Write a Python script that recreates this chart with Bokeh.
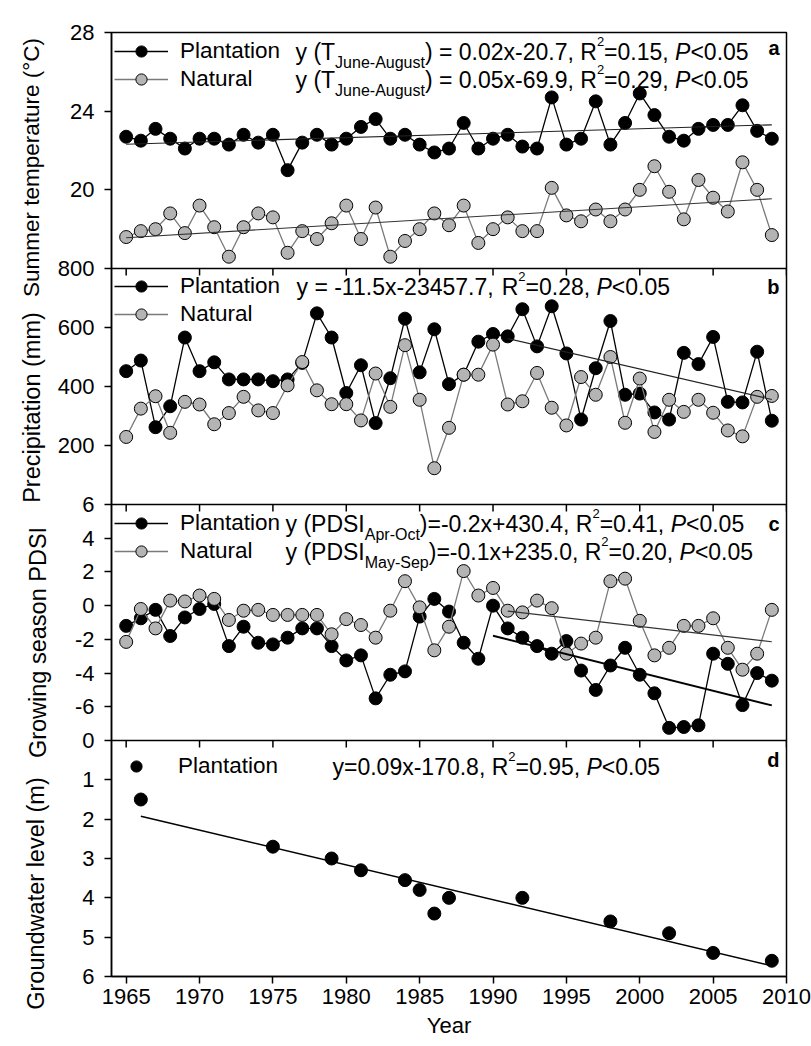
import numpy as np
from bokeh.plotting import figure
from bokeh.layouts import row
from bokeh.models import (Range1d, FixedTicker, Label, Legend, LegendItem, Span)
from bokeh.embed import file_html
from bokeh.resources import INLINE

# ---------------- data ----------------
years = list(range(1965, 2010))
temp_plantation = [22.7, 22.5, 23.1, 22.6, 22.1, 22.6, 22.6, 22.3, 22.8, 22.4, 22.8, 21.0, 22.4, 22.8, 22.3,
                   22.6, 23.2, 23.6, 22.6, 22.8, 22.3, 21.9, 22.1, 23.4, 22.1, 22.6, 22.8, 22.2, 22.1, 24.7,
                   22.3, 22.6, 24.5, 22.3, 23.4, 24.9, 23.8, 22.7, 22.5, 23.1, 23.3, 23.3, 24.3, 23.0, 22.6]
temp_natural = [17.6, 17.9, 18.0, 18.8, 17.8, 19.2, 18.1, 16.6, 18.1, 18.8, 18.6, 16.8, 17.9, 17.5, 18.3,
                19.2, 17.5, 19.1, 16.6, 17.4, 18.0, 18.8, 18.2, 19.2, 17.3, 18.0, 18.6, 17.9, 17.9, 20.1,
                18.7, 18.4, 19.0, 18.4, 19.0, 20.0, 21.2, 19.9, 18.5, 20.5, 19.6, 18.9, 21.4, 20.0, 17.7]
precip_plantation = [452, 488, 262, 333, 566, 452, 482, 424, 424, 424, 418, 424, 480, 648, 566,
                     378, 472, 276, 428, 630, 448, 594, 408, 440, 552, 578, 570, 662, 536, 672,
                     512, 288, 462, 622, 372, 376, 312, 288, 514, 476, 568, 348, 346, 518, 284]
precip_natural = [229, 325, 367, 243, 348, 339, 272, 310, 365, 319, 310, 404, 483, 387, 340,
                  340, 285, 444, 331, 540, 355, 123, 260, 440, 440, 542, 339, 350, 446, 328,
                  268, 432, 372, 500, 277, 427, 246, 355, 314, 355, 311, 251, 231, 365, 368]
pdsi_plantation = [-1.2, -0.75, -0.25, -1.8, -0.7, -0.2, 0.1, -2.4, -1.25, -2.2, -2.3, -1.9, -1.35, -1.35, -2.4,
                   -3.25, -2.95, -5.5, -4.1, -3.9, -0.65, 0.4, -0.35, -2.2, -3.15, 0.0, -1.35, -1.9, -2.4, -2.85,
                   -2.1, -3.85, -5.0, -3.55, -2.5, -4.1, -5.2, -7.25, -7.2, -7.1, -2.85, -3.45, -5.9, -4.0, -4.45]
pdsi_natural = [-2.15, -0.2, -1.35, 0.3, 0.25, 0.6, 0.4, -0.85, -0.3, -0.25, -0.55, -0.55, -0.55, -0.55, -1.7,
                -0.8, -1.15, -1.9, -0.3, 1.45, -0.1, -2.65, -1.25, 2.05, 0.6, 1.05, -0.3, -0.4, 0.3, -0.15,
                -2.85, -2.25, -1.9, 1.45, 1.6, -0.9, -2.95, -2.5, -1.2, -1.2, -0.75, -2.5, -3.8, -2.85, -0.25]
gw_years = [1966, 1975, 1979, 1981, 1984, 1985, 1986, 1987, 1992, 1998, 2002, 2005, 2009]
gw_plantation = [1.5, 2.7, 3.0, 3.3, 3.55, 3.8, 4.4, 4.0, 4.0, 4.6, 4.9, 5.4, 5.6]

x_ticks = [1965, 1970, 1975, 1980, 1985, 1990, 1995, 2000, 2005, 2010]
temp_ticks = [16, 20, 24, 28]
precip_ticks = [0, 200, 400, 600, 800]
pdsi_ticks = [-8, -6, -4, -2, 0, 2, 4, 6]
gw_ticks = [0, 1, 2, 3, 4, 5, 6]

# regression periods (first, last year)
trend_temp_period = (1965, 2009)
trend_precip_plant_period = (1991, 2009)
trend_pdsi_plant_period = (1990, 2009)
trend_pdsi_nat_period = (1991, 2009)
trend_gw_period = (1966, 2009)

# ---------------- layout constants ----------------
FONT = "Liberation Sans"
X0, X1 = 1964, 2010
TITLE_W = 54                                 # width of the strip holding the y titles
BORDER_L, BORDER_T, BORDER_B, BORDER_R = 55, 32, 68, 26
FW, FH = 675, 944
TOTAL_H = BORDER_T + FH + BORDER_B
FL, FT = TITLE_W + BORDER_L, BORDER_T        # page position of frame
NP = 4
BAND = 84
TOTAL = BAND * NP
PH = FH / NP                                 # panel height in px
PT = [FT + k * PH for k in range(NP)]        # panel tops (page px)

# panel value limits: (low, high, reversed, index)
panels = {
    "ta": (16, 28, False, 0),
    "pr": (0, 800, False, 1),
    "pd": (-8, 6, False, 2),
    "gw": (0, 6, True, 3),
}


def to_main(name, v):
    lo, hi, rev, k = panels[name]
    bottom = (NP - 1 - k) * BAND
    if rev:
        return bottom + (hi - v) / (hi - lo) * BAND
    return bottom + (v - lo) / (hi - lo) * BAND


def panel_range(name):
    lo, hi, rev, k = panels[name]
    bottom = (NP - 1 - k) * BAND
    span = (hi - lo) / BAND
    if rev:
        return Range1d(start=hi + bottom * span, end=hi - (TOTAL - bottom) * span)
    return Range1d(start=lo - bottom * span, end=lo + (TOTAL - bottom) * span)


def xd(px):
    return X0 + (px - FL) / FW * (X1 - X0)


def yd(py):
    return TOTAL - (py - FT) / FH * TOTAL


p = figure(frame_width=FW, frame_height=FH, x_range=Range1d(X0, X1), y_range=Range1d(0, TOTAL),
           output_backend="svg", toolbar_location=None, title=None,
           min_border_left=BORDER_L, min_border_right=BORDER_R, min_border_top=BORDER_T,
           min_border_bottom=BORDER_B,
           outline_line_color="black", outline_line_width=1.5, background_fill_color="white",
           border_fill_color="white")
p.grid.visible = False
p.extra_y_ranges = {n: panel_range(n) for n in panels}

# ---------------- axes ----------------
tick_pos = {}
for name, ticks in (("ta", temp_ticks), ("pr", precip_ticks), ("pd", pdsi_ticks), ("gw", gw_ticks)):
    for tk in ticks:
        tick_pos[int(round(to_main(name, tk)))] = str(tk)

yax = p.yaxis[0]
yax.ticker = FixedTicker(ticks=sorted(tick_pos.keys()))
yax.major_label_overrides = tick_pos
yax.major_label_text_font = FONT
yax.major_label_text_font_size = "22px"
yax.major_label_text_color = "black"
yax.major_tick_out = 7
yax.major_tick_in = 0
yax.minor_tick_line_color = None
yax.major_label_standoff = 10
yax.axis_line_width = 1.5
yax.major_tick_line_width = 1.5

xax = p.xaxis[0]
xax.ticker = FixedTicker(ticks=x_ticks)
xax.major_label_text_font = FONT
xax.major_label_text_font_size = "22px"
xax.major_label_text_color = "black"
xax.major_tick_out = 7
xax.major_tick_in = 0
xax.minor_tick_line_color = None
xax.major_label_standoff = 5
xax.axis_line_width = 1.5
xax.major_tick_line_width = 1.5
xax.axis_label = "Year"
xax.axis_label_text_font = FONT
xax.axis_label_text_font_size = "22px"
xax.axis_label_text_font_style = "normal"
xax.axis_label_text_color = "black"
xax.axis_label_standoff = 6

# panel boundaries and their downward ticks
tick_len = 7 / FH * TOTAL
for k in range(1, NP):
    b = k * BAND
    p.add_layout(Span(location=b, dimension="width", line_color="black", line_width=1.5))
    p.segment(x0=x_ticks, x1=x_ticks, y0=[b] * len(x_ticks), y1=[b - tick_len] * len(x_ticks),
              line_color="black", line_width=1.5)

# ---------------- series ----------------
BLACK = "black"
GREY_FILL = "#b4b4b4"
GREY_LINE = "#7a7a7a"
MS = 13


def series(xs, ys, rng, fill, line_col, draw_line=True):
    lr = None
    if draw_line:
        lr = p.line(xs, ys, y_range_name=rng, line_color=line_col, line_width=1.3)
    sr = p.scatter(xs, ys, y_range_name=rng, size=MS, fill_color=fill, line_color="black", line_width=1)
    return lr, sr


def trend(xs, ys, period, rng, color, width):
    xa = np.array(xs, dtype=float)
    ya = np.array(ys, dtype=float)
    m = (xa >= period[0]) & (xa <= period[1])
    k, c = np.polyfit(xa[m], ya[m], 1)
    xe = [period[0], period[1]]
    p.line(xe, [k * xe[0] + c, k * xe[1] + c], y_range_name=rng, line_color=color, line_width=width)


la_p, sa_p = series(years, temp_plantation, "ta", BLACK, BLACK)
la_n, sa_n = series(years, temp_natural, "ta", GREY_FILL, GREY_LINE)
trend(years, temp_plantation, trend_temp_period, "ta", "#222222", 1.1)
trend(years, temp_natural, trend_temp_period, "ta", "#333333", 1.1)

lb_p, sb_p = series(years, precip_plantation, "pr", BLACK, BLACK)
lb_n, sb_n = series(years, precip_natural, "pr", GREY_FILL, GREY_LINE)
trend(years, precip_plantation, trend_precip_plant_period, "pr", "#222222", 1.1)

lc_p, sc_p = series(years, pdsi_plantation, "pd", BLACK, BLACK)
lc_n, sc_n = series(years, pdsi_natural, "pd", GREY_FILL, GREY_LINE)
trend(years, pdsi_plantation, trend_pdsi_plant_period, "pd", "black", 2.0)
trend(years, pdsi_natural, trend_pdsi_nat_period, "pd", "#333333", 1.2)

_, sd_p = series(gw_years, gw_plantation, "gw", BLACK, BLACK, draw_line=False)
trend(gw_years, gw_plantation, trend_gw_period, "gw", "black", 1.5)

# ---------------- legends ----------------
ROW = 28


def add_legend(items, k, top_off, x=3, standoff=12):
    n = len(items)
    top_frame = PT[k] + top_off - FT
    leg = Legend(items=[LegendItem(label=lab, renderers=[r for r in rs if r is not None]) for lab, rs in items],
                 location=(x, FH - top_frame - n * ROW), orientation="vertical",
                 glyph_width=54, glyph_height=ROW, label_height=ROW, label_standoff=standoff,
                 spacing=0, padding=0, margin=0, border_line_alpha=0, background_fill_alpha=0,
                 label_text_font=FONT, label_text_font_size="22.5px", label_text_color="black")
    p.add_layout(leg)


add_legend([("Plantation", [la_p, sa_p]), ("Natural", [la_n, sa_n])], 0, 5)
add_legend([("Plantation", [lb_p, sb_p]), ("Natural", [lb_n, sb_n])], 1, 4)
add_legend([("Plantation", [lc_p, sc_p]), ("Natural", [lc_n, sc_n])], 2, 5)
add_legend([("Plantation", [sd_p])], 3, 12, x=-2, standoff=15)

# ---------------- equations (pieces laid out with Arial metrics) ----------------
AW = {' ': 278, '(': 333, ')': 333, '=': 584, '<': 584, '-': 333, '+': 584, '.': 278, ',': 278,
      'x': 500, 'y': 500, 'R': 722, 'T': 611, 'P': 667, 'D': 722, 'S': 667, 'I': 278, 'J': 500,
      'u': 556, 'n': 556, 'e': 556, 'A': 667, 'g': 556, 's': 500, 't': 278, 'p': 556, 'r': 333,
      'O': 778, 'c': 500, 'M': 833, 'a': 556}
for d in "0123456789":
    AW[d] = 556
SIZES = {"m": 23, "i": 23, "sub": 16, "sup": 13}
DY = {"m": 0, "i": 0, "sub": 11, "sup": -10}


def text_w(s, size):
    return sum(AW.get(ch, 556) for ch in s) * size / 1000.0


def equation(pieces, x_page, y_page):
    x = x_page
    for txt, kind in pieces:
        size = SIZES[kind]
        p.add_layout(Label(x=xd(x), y=yd(y_page + DY[kind]), text=txt, text_font=FONT,
                           text_font_size=f"{size}px", text_color="black",
                           text_font_style="italic" if kind == "i" else "normal",
                           text_align="left", text_baseline="middle"))
        x += text_w(txt, size)


def tail(r2):
    return [("R", "m"), ("2", "sup"), (f"={r2}, ", "m"), ("P", "i"), ("<0.05", "m")]


equation([("y (T", "m"), ("June-August", "sub"), (") = 0.02x-20.7, ", "m")] + tail("0.15"), 293, PT[0] + 19)
equation([("y (T", "m"), ("June-August", "sub"), (") = 0.05x-69.9, ", "m")] + tail("0.29"), 293, PT[0] + 47)
equation([("y = -11.5x-23457.7, ", "m")] + tail("0.28"), 294, PT[1] + 18)
equation([("y (PDSI", "m"), ("Apr-Oct", "sub"), (")=-0.2x+430.4, ", "m")] + tail("0.41"), 283, PT[2] + 19)
equation([("y (PDSI", "m"), ("May-Sep", "sub"), (")=-0.1x+235.0, ", "m")] + tail("0.20"), 283, PT[2] + 47)
equation([("y=0.09x-170.8, ", "m")] + tail("0.95"), 330, PT[3] + 26)

# panel letters
for letter, k, off in (("a", 0, 15), ("b", 1, 18), ("c", 2, 19), ("d", 3, 19)):
    p.add_layout(Label(x=xd(777), y=yd(PT[k] + off), text=letter, text_font=FONT, text_font_size="20px",
                       text_font_style="bold", text_color="black", text_align="right", text_baseline="middle"))

# ---------------- y-axis titles (separate strip to the left, 1 data unit = 1 px) ----------------
t = figure(frame_width=TITLE_W, frame_height=TOTAL_H, x_range=Range1d(0, TITLE_W),
           y_range=Range1d(TOTAL_H, 0), title=None,
           output_backend="svg", toolbar_location=None, x_axis_location=None, y_axis_location=None,
           min_border=0, min_border_left=0, min_border_right=0, min_border_top=0, min_border_bottom=0,
           outline_line_color=None, background_fill_color="white", border_fill_color="white")
t.grid.visible = False
# (text, panel index, centre x, centre y offset from panel top, font size)
titles = [("Summer temperature (°C)", 0, 31, 103, "22.5px"), ("Precipitation (mm)", 1, 31, 107, "23.5px"),
          ("Growing season PDSI", 2, 37, 106, "23.5px"), ("Groundwater level (m)", 3, 35, 121, "23.5px")]
for txt, k, xpx, off, fs in titles:
    t.add_layout(Label(x=xpx, y=PT[k] + off, text=txt, text_font=FONT,
                       text_font_size=fs, text_color="black", angle=np.pi / 2,
                       text_align="center", text_baseline="middle"))

layout = row(t, p, spacing=0)
open("out.html", "w").write(file_html(layout, INLINE))
